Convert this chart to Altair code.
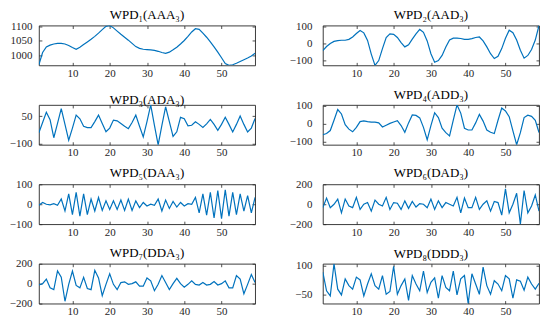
import altair as alt
import pandas as pd

x_values = list(range(1, 60))
x_ticks = [10, 20, 30, 40, 50]

titles = ["WPD₁(AAA₃)", "WPD₂(AAD₃)", "WPD₃(ADA₃)", "WPD₄(ADD₃)",
          "WPD₅(DAA₃)", "WPD₆(DAD₃)", "WPD₇(DDA₃)", "WPD₈(DDD₃)"]

wpd1 = [968, 1010, 1029, 1035, 1039, 1041, 1041, 1039, 1034, 1027,
        1021, 1028, 1037, 1046, 1055, 1065, 1076, 1088, 1099, 1102,
        1094, 1083, 1072, 1062, 1052, 1041, 1030, 1024, 1021, 1020,
        1019, 1017, 1014, 1010, 1007, 1011, 1019, 1028, 1039, 1051,
        1065, 1080, 1091, 1089, 1076, 1062, 1046, 1029, 1011, 992,
        972, 966, 968, 973, 979, 985, 991, 998, 1007]
wpd2 = [-42, -18, 0, 12, 17, 19, 19, 24, 38, 58,
        76, 62, 18, -62, -128, -100, -30, 35, 56, 53,
        35, 5, -20, -8, 25, 56, 82, 65, 15, -60,
        -110, -100, -70, -20, 20, 31, 31, 29, 24, 24,
        28, 35, 38, 15, -20, -60, -88, -75, -30, 30,
        78, 63, 20, -40, -86, -70, -35, 20, 105]
wpd3 = [-40, 15, 70, 30, -67, 10, 90, 5, -80, -15,
        55, 35, -5, -12, -12, 20, 55, 10, -35, -15,
        28, 24, 10, -5, -18, 15, 55, -5, -63, 20,
        110, 0, -105, 0, 100, 20, -60, -35, 43, 35,
        -3, 0, 19, 5, -12, 8, 32, 5, -27, 5,
        43, 5, -36, 5, 50, 5, -36, -15, 37]
wpd4 = [-62, -55, -38, 20, 80, 55, -5, -30, -45, -20,
        12, 16, 12, 9, 9, 5, -18, -8, 2, 10,
        17, -10, -48, 5, 50, 47, 33, -20, -90, -10,
        62, 35, -25, -50, -68, 20, 106, 60, -25, -35,
        -35, 5, 53, 15, -35, -48, -55, 20, 88, 72,
        40, -40, -118, -50, 35, 48, 42, 20, -49]
wpd5 = [-5, 9, 0, -3, 3, -5, 26, -34, 52, -52,
        60, -60, 52, -52, 26, -34, 34, -31, 17, -26,
        17, -26, 21, -31, 26, -31, 17, -17, 9, -9,
        0, -5, 26, -34, 21, -21, 14, -14, 9, -9,
        3, 0, 34, -43, 52, -55, 60, -69, 69, -72,
        72, -60, 60, -52, 52, -34, 43, -43, 34]
wpd6 = [-34, 62, -34, 0, 52, -86, 52, -17, -34, 69,
        -52, 0, 17, -69, 41, 0, -17, 69, -52, 17,
        10, -52, 34, -41, 28, -28, 7, 0, -34, 52,
        -52, 34, -34, 17, 0, -17, 69, -86, 62, -34,
        -34, 69, -52, 0, 34, -69, 28, 17, -110, 155,
        -86, 0, 110, -200, 138, -86, -17, 93, -69]
wpd7 = [-14, 0, 46, -42, -60, 127, 64, -177, -7, 127,
        -18, -42, 64, -49, -60, 134, 57, -120, -7, 99,
        -7, -60, 11, 18, -7, 0, 18, -25, -25, 57,
        28, -71, -7, 81, 11, -60, 0, 53, 0, -35,
        -7, 28, -7, -14, 11, -14, -7, 21, -14, 0,
        28, -42, -42, 81, 46, -102, -7, 92, 11]
wpd8 = [66, -29, -55, 108, -21, -50, 31, -3, -21, 40,
        26, -55, 5, 57, -3, -21, 48, -47, -33, 95,
        -47, -3, 31, -78, 48, 5, -29, 71, -38, 14,
        36, -67, 48, -12, -29, 71, -50, 31, 48, -94,
        57, 5, -47, 91, -3, -47, 22, 5, -29, 48,
        31, -67, 26, 19, -26, 40, 5, -21, 9]

series = [wpd1, wpd2, wpd3, wpd4, wpd5, wpd6, wpd7, wpd8]

y_ticks = [[1000, 1050, 1100], [-100, 0, 100], [-100, 50], [-100, 0, 100],
           [-100, 0, 100], [-200, 0, 200], [-200, 0, 200], [-50, 100]]
fixed_domains = {4: [-100, 100], 5: [-200, 200], 6: [-200, 200]}

FONT = "Liberation Serif"
AXIS_COLOR = "#262626"
LINE_COLOR = "#0072BD"
W, H = 217, 40


def panel(i):
    vals = series[i]
    df = pd.DataFrame({"x": x_values, "y": vals})
    dom = fixed_domains.get(i, [min(vals), max(vals)])
    xs = alt.Scale(domain=[1, 59], nice=False, zero=False)
    ys = alt.Scale(domain=dom, nice=False, zero=False)
    common = dict(domain=False, grid=False, title=None, tickSize=3,
                  offset=-3, tickColor=AXIS_COLOR, tickWidth=0.8,
                  labelFont=FONT, labelFontSize=11, labelColor=AXIS_COLOR,
                  format="d")
    ypad = 7 if i % 2 == 0 else 11
    main = alt.Chart(df).mark_line(color=LINE_COLOR, strokeWidth=1.2, clip=True).encode(
        x=alt.X("x:Q", scale=xs,
                axis=alt.Axis(orient="bottom", values=x_ticks, labelPadding=2, **common)),
        y=alt.Y("y:Q", scale=ys,
                axis=alt.Axis(orient="left", values=y_ticks[i], labelPadding=ypad, **common)),
    )
    ghost = alt.Chart(df).mark_line(strokeOpacity=0).encode(
        x=alt.X("x:Q", scale=xs,
                axis=alt.Axis(orient="top", values=x_ticks, labels=False, **common)),
        y=alt.Y("y:Q", scale=ys,
                axis=alt.Axis(orient="right", values=y_ticks[i], labels=False, **common)),
    )
    return alt.layer(main, ghost).resolve_axis(x="independent", y="independent").properties(
        width=W, height=H,
        title=alt.TitleParams(titles[i], frame="group", offset=-2)
    )


chart = alt.concat(*[panel(i) for i in range(8)], columns=2,
                   spacing={"row": 39.7, "column": 68}, bounds="flush").properties(
    padding={"left": 0, "top": 0, "right": 2, "bottom": 0}
).configure_view(
    stroke=AXIS_COLOR, strokeWidth=0.9
).configure_title(
    font=FONT, fontSize=13, color="#000000", fontWeight="normal", anchor="middle"
)

chart.save("out.html", embed_options={"renderer": "svg", "actions": False})
